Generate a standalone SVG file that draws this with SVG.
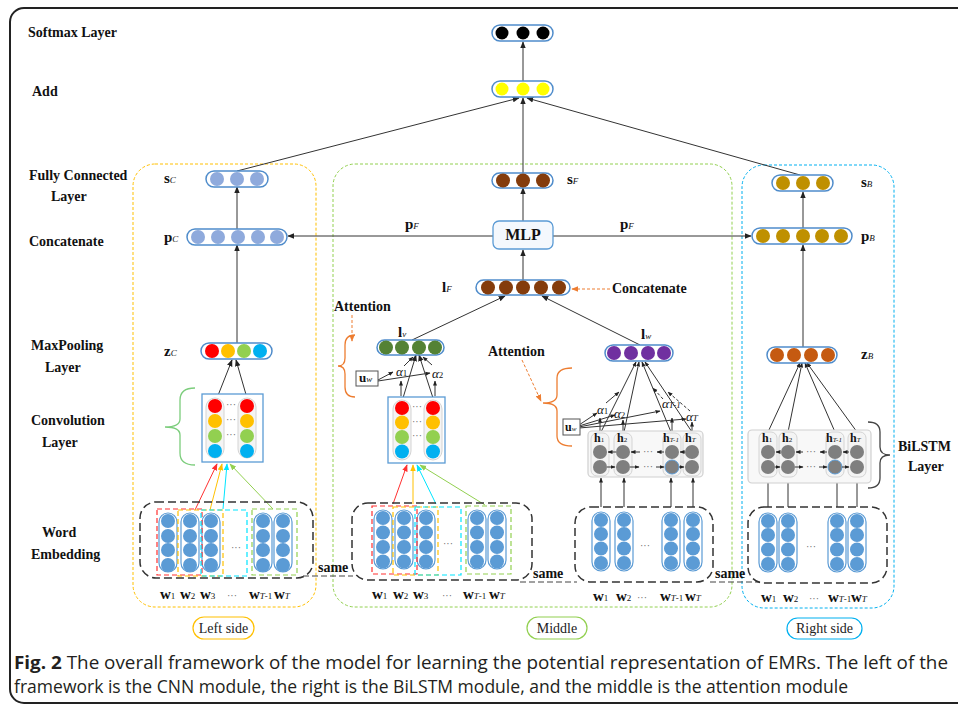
<svg xmlns="http://www.w3.org/2000/svg" width="958" height="710" viewBox="0 0 958 710">
<defs>
<style>
.lbl{font-family:"Liberation Serif","Times New Roman",serif;font-weight:bold;font-size:14px;fill:#111}
.nl{font-family:"Liberation Serif","Times New Roman",serif;font-weight:bold;font-size:15px;fill:#111}
.sub{font-family:"Liberation Serif","Times New Roman",serif;font-style:italic;font-weight:normal;font-size:9px}
.subn{font-family:"Liberation Serif","Times New Roman",serif;font-weight:normal;font-size:9px}
.hl{font-family:"Liberation Serif","Times New Roman",serif;font-weight:bold;font-size:13px;fill:#111}
.wl{font-family:"Liberation Serif","Times New Roman",serif;font-weight:bold;font-size:15px;fill:#111}
.al{font-family:"Liberation Serif","Times New Roman",serif;font-style:italic;font-size:13px;fill:#111}
.dots{font-family:"Liberation Serif",serif;font-size:10px;fill:#666;font-weight:normal}
.vec{fill:#fff;stroke:#4f8ccb;stroke-width:1.5}
.pill{fill:#fff;stroke:#5b9bd5;stroke-width:1.2}
.gpill{fill:#f4f4f4;stroke:#d4d4d4;stroke-width:1}
.emb{fill:#5b9bd5}
.hc{fill:#7f7f7f}
.conv{fill:#fff;stroke:#5b9bd5;stroke-width:1.3}
.bil{fill:#f8f8f8;stroke:#d0d0d0;stroke-width:1.2}
.ebox{fill:none;stroke:#333;stroke-width:1.5;stroke-dasharray:8 4}
.ln{stroke:#333;stroke-width:1;fill:none}
.pl{font-family:"Liberation Serif","Times New Roman",serif;font-size:14px;fill:#222}
.cap{font-family:"Open Sans","Noto Sans",sans-serif;font-size:18px;fill:#231f20}
</style>
<marker id="ah" viewBox="0 0 10 10" refX="9" refY="5" markerWidth="7" markerHeight="7" orient="auto" markerUnits="userSpaceOnUse"><path d="M0,1 L10,5 L0,9 z" fill="#222"/></marker>
<marker id="as" viewBox="0 0 10 10" refX="9" refY="5" markerWidth="5" markerHeight="5" orient="auto" markerUnits="userSpaceOnUse"><path d="M0,1 L10,5 L0,9 z" fill="#222"/></marker>
<marker id="ao" viewBox="0 0 10 10" refX="9" refY="5" markerWidth="7" markerHeight="7" orient="auto" markerUnits="userSpaceOnUse"><path d="M0,1 L10,5 L0,9 z" fill="#ed7d31"/></marker>
<marker id="ar" viewBox="0 0 10 10" refX="9" refY="5" markerWidth="7" markerHeight="7" orient="auto" markerUnits="userSpaceOnUse"><path d="M0,1 L10,5 L0,9 z" fill="#ff3030"/></marker>
<marker id="ay" viewBox="0 0 10 10" refX="9" refY="5" markerWidth="7" markerHeight="7" orient="auto" markerUnits="userSpaceOnUse"><path d="M0,1 L10,5 L0,9 z" fill="#ffc000"/></marker>
<marker id="ac" viewBox="0 0 10 10" refX="9" refY="5" markerWidth="7" markerHeight="7" orient="auto" markerUnits="userSpaceOnUse"><path d="M0,1 L10,5 L0,9 z" fill="#00e5ff"/></marker>
<marker id="ag" viewBox="0 0 10 10" refX="9" refY="5" markerWidth="7" markerHeight="7" orient="auto" markerUnits="userSpaceOnUse"><path d="M0,1 L10,5 L0,9 z" fill="#92d050"/></marker>
</defs>
<rect width="958" height="710" fill="#fff"/>
<rect x="10" y="8" width="970" height="695" rx="14" fill="none" stroke="#222" stroke-width="2"/>

<g id="panels">
<rect x="133" y="164" width="183" height="443" rx="22" fill="none" stroke="#ffc000" stroke-width="1" stroke-dasharray="3 2"/>
<rect x="333" y="164" width="399" height="443" rx="22" fill="none" stroke="#92d050" stroke-width="1" stroke-dasharray="3 2"/>
<rect x="742" y="165" width="152" height="443" rx="22" fill="none" stroke="#00b0f0" stroke-width="1" stroke-dasharray="3 2"/>
</g>

<g id="layer-labels" class="lbl">
<text x="28" y="37">Softmax Layer</text>
<text x="32" y="96">Add</text>
<text x="29" y="180">Fully Connected</text>
<text x="51" y="201">Layer</text>
<text x="29" y="246">Concatenate</text>
<text x="31" y="350">MaxPooling</text>
<text x="45" y="372">Layer</text>
<text x="31" y="425">Convolution</text>
<text x="42" y="447">Layer</text>
<text x="42" y="537">Word</text>
<text x="31" y="559">Embedding</text>
</g>

<g id="connectors">
<line class="ln" x1="523" y1="81" x2="523" y2="42" marker-end="url(#ah)"/>
<line class="ln" x1="237" y1="171" x2="519" y2="98" marker-end="url(#ah)"/>
<line class="ln" x1="523" y1="173" x2="523" y2="98" marker-end="url(#ah)"/>
<line class="ln" x1="800" y1="175" x2="527" y2="98" marker-end="url(#ah)"/>
<line class="ln" x1="237" y1="229" x2="237" y2="187" marker-end="url(#ah)"/>
<line class="ln" x1="237" y1="343" x2="237" y2="245" marker-end="url(#ah)"/>
<line class="ln" x1="217" y1="398" x2="232" y2="360" marker-end="url(#ah)"/>
<line class="ln" x1="247" y1="398" x2="236" y2="360" marker-end="url(#ah)"/>
<line stroke="#ff3030" stroke-width="1" x1="195" y1="510" x2="217" y2="464" marker-end="url(#ar)"/>
<line stroke="#ffc000" stroke-width="1" x1="210" y1="510" x2="222" y2="464" marker-end="url(#ay)"/>
<line stroke="#00e5ff" stroke-width="1" x1="223" y1="509" x2="227" y2="464" marker-end="url(#ac)"/>
<line stroke="#92d050" stroke-width="1" x1="273" y1="509" x2="230" y2="464" marker-end="url(#ag)"/>
<line class="ln" x1="523" y1="221" x2="523" y2="188" marker-end="url(#ah)"/>
<line class="ln" x1="523" y1="280" x2="523" y2="250" marker-end="url(#ah)"/>
<line class="ln" x1="493" y1="236" x2="288" y2="236" marker-end="url(#ah)"/>
<line class="ln" x1="553" y1="236" x2="751" y2="236" marker-end="url(#ah)"/>
<line class="ln" x1="412" y1="340" x2="505" y2="296" marker-end="url(#ah)"/>
<line class="ln" x1="640" y1="345" x2="542" y2="296" marker-end="url(#ah)"/>
<line class="ln" x1="403" y1="398" x2="416" y2="355" marker-end="url(#ah)"/>
<line class="ln" x1="433" y1="398" x2="419" y2="355" marker-end="url(#ah)"/>
<line class="ln" x1="378" y1="380" x2="393" y2="372" marker-end="url(#as)"/>
<line class="ln" x1="378" y1="381" x2="430" y2="373" marker-end="url(#as)"/>
<line class="ln" x1="401" y1="396" x2="401" y2="381" marker-end="url(#as)"/>
<line class="ln" x1="435" y1="396" x2="435" y2="381" marker-end="url(#as)"/>
<line class="ln" x1="404" y1="366" x2="413" y2="357" marker-end="url(#as)"/>
<line class="ln" x1="432" y1="365" x2="423" y2="357" marker-end="url(#as)"/>
<line stroke="#ff3030" stroke-width="1" x1="393" y1="504" x2="407" y2="465" marker-end="url(#ar)"/>
<line stroke="#ffc000" stroke-width="1" x1="413" y1="504" x2="413" y2="465" marker-end="url(#ay)"/>
<line stroke="#00e5ff" stroke-width="1" x1="436" y1="504" x2="417" y2="465" marker-end="url(#ac)"/>
<line stroke="#92d050" stroke-width="1" x1="485" y1="505" x2="420" y2="465" marker-end="url(#ag)"/>
<line class="ln" x1="601" y1="432" x2="636" y2="362" marker-end="url(#as)"/>
<line class="ln" x1="624" y1="432" x2="639" y2="362" marker-end="url(#as)"/>
<line class="ln" x1="671" y1="432" x2="642" y2="362" marker-end="url(#as)"/>
<line class="ln" x1="692" y1="432" x2="645" y2="362" marker-end="url(#as)"/>
<line class="ln" x1="579" y1="425" x2="597" y2="413" marker-end="url(#as)"/>
<line class="ln" x1="579" y1="426" x2="615" y2="415" marker-end="url(#as)"/>
<line class="ln" x1="579" y1="427" x2="660" y2="411" marker-end="url(#as)"/>
<line class="ln" x1="579" y1="428" x2="686" y2="419" marker-end="url(#as)"/>
<line class="ln" x1="600" y1="432" x2="600" y2="418" marker-end="url(#as)"/>
<line class="ln" x1="623" y1="432" x2="623" y2="420" marker-end="url(#as)"/>
<line class="ln" x1="672" y1="432" x2="672" y2="418" marker-end="url(#as)"/>
<line class="ln" x1="692" y1="432" x2="692" y2="422" marker-end="url(#as)"/>
<line class="ln" x1="606" y1="403" x2="619" y2="392" marker-end="url(#as)"/>
<line class="ln" x1="663" y1="399" x2="653" y2="388" stroke-dasharray="3 2" marker-end="url(#as)"/>
<line class="ln" x1="690" y1="411" x2="668" y2="392" stroke-dasharray="3 2" marker-end="url(#as)"/>
<line class="ln" x1="601" y1="507" x2="601" y2="478" marker-end="url(#as)"/>
<line class="ln" x1="624" y1="507" x2="624" y2="478" marker-end="url(#as)"/>
<line class="ln" x1="671" y1="507" x2="671" y2="478" marker-end="url(#as)"/>
<line class="ln" x1="693" y1="507" x2="693" y2="478" marker-end="url(#as)"/>
<line class="ln" x1="768" y1="507" x2="768" y2="478" marker-end="url(#as)"/>
<line class="ln" x1="788" y1="507" x2="788" y2="478" marker-end="url(#as)"/>
<line class="ln" x1="837" y1="507" x2="837" y2="478" marker-end="url(#as)"/>
<line class="ln" x1="857" y1="507" x2="857" y2="478" marker-end="url(#as)"/>
<line class="ln" x1="768" y1="432" x2="800" y2="363" marker-end="url(#as)"/>
<line class="ln" x1="788" y1="432" x2="802" y2="363" marker-end="url(#as)"/>
<line class="ln" x1="835" y1="432" x2="805" y2="363" marker-end="url(#as)"/>
<line class="ln" x1="857" y1="432" x2="807" y2="363" marker-end="url(#as)"/>
<line class="ln" x1="803" y1="347" x2="803" y2="245" marker-end="url(#ah)"/>
<line class="ln" x1="803" y1="228" x2="803" y2="192" marker-end="url(#ah)"/>
<line stroke="#ed7d31" stroke-width="1" stroke-dasharray="3 2" x1="352" y1="315" x2="352" y2="341" marker-end="url(#ao)"/>
<line stroke="#ed7d31" stroke-width="1" stroke-dasharray="3 2" x1="522" y1="360" x2="541" y2="401" marker-end="url(#ao)"/>
<line stroke="#ed7d31" stroke-width="1" stroke-dasharray="3 2" x1="610" y1="289" x2="572" y2="289" marker-end="url(#ao)"/>
<line stroke="#444" stroke-width="1.2" stroke-dasharray="6 3" x1="303" y1="576" x2="353" y2="576"/>
<line stroke="#444" stroke-width="1.2" stroke-dasharray="6 3" x1="520" y1="582" x2="577" y2="582"/>
<line stroke="#444" stroke-width="1.2" stroke-dasharray="6 3" x1="710" y1="582" x2="760" y2="582"/>
</g>

<g id="braces" fill="none" stroke-width="1.3">
<path d="M195,388 Q180,388 180,400 L180,419 Q180,427 165,427 Q180,427 180,435 L180,453 Q180,465 195,465" stroke="#7ccd7c"/>
<path d="M355,335 Q345,335 345,345 L345,358 Q345,366 338,366 Q345,366 345,374 L345,387 Q345,397 355,397" stroke="#ed7d31"/>
<path d="M572,368 Q557,368 557,378 L557,395 Q557,403 543,403 Q557,403 557,411 L557,436 Q557,446 572,446" stroke="#ed7d31"/>
<path d="M868,422 Q880,422 880,432 L880,447 Q880,455 890,455 Q880,455 880,463 L880,478 Q880,488 868,488" stroke="#444"/>
</g>

<g id="softmax">
<rect class="vec" x="492" y="25" width="61" height="16" rx="8"/>
<circle cx="502" cy="33" r="6.5" fill="#000"/><circle cx="523" cy="33" r="6.5" fill="#000"/><circle cx="543" cy="33" r="6.5" fill="#000"/>
</g>
<g id="add">
<rect class="vec" x="492" y="81" width="61" height="16" rx="8"/>
<circle cx="502" cy="89" r="6.5" fill="#ffff00"/><circle cx="523" cy="89" r="6.5" fill="#ffff00"/><circle cx="543" cy="89" r="6.5" fill="#ffff00"/>
</g>

<g id="sC">
<rect class="vec" x="206" y="171" width="62" height="16" rx="8"/>
<circle cx="217" cy="179" r="7" fill="#8faadc"/><circle cx="237" cy="179" r="7" fill="#8faadc"/><circle cx="257" cy="179" r="7" fill="#8faadc"/>
<text class="nl" x="164" y="183">s<tspan class="sub">C</tspan></text>
</g>
<g id="pC">
<rect class="vec" x="187" y="229" width="100" height="16" rx="8"/>
<circle cx="198" cy="237" r="7" fill="#8faadc"/><circle cx="218" cy="237" r="7" fill="#8faadc"/><circle cx="238" cy="237" r="7" fill="#8faadc"/><circle cx="258" cy="237" r="7" fill="#8faadc"/><circle cx="277" cy="237" r="7" fill="#8faadc"/>
<text class="nl" x="164" y="242">p<tspan class="sub">C</tspan></text>
</g>
<g id="zC">
<rect class="vec" x="201" y="343" width="71" height="16" rx="8"/>
<circle cx="212" cy="351" r="7" fill="#ff0000"/><circle cx="228" cy="351" r="7" fill="#ffc000"/><circle cx="244" cy="351" r="7" fill="#92d050"/><circle cx="260" cy="351" r="7" fill="#00b0f0"/>
<text class="nl" x="164" y="356">z<tspan class="sub">C</tspan></text>
</g>
<g id="convC">
<rect class="conv" x="202" y="394" width="61" height="68"/>
<rect class="gpill" x="206" y="398" width="18" height="60" rx="9"/>
<rect class="gpill" x="238" y="398" width="18" height="60" rx="9"/>
<circle cx="215" cy="406" r="7" fill="#ff0000"/><circle cx="215" cy="421" r="7" fill="#ffc000"/><circle cx="215" cy="436" r="7" fill="#92d050"/><circle cx="215" cy="451" r="7" fill="#00b0f0"/>
<circle cx="247" cy="406" r="7" fill="#ff0000"/><circle cx="247" cy="421" r="7" fill="#ffc000"/><circle cx="247" cy="436" r="7" fill="#92d050"/><circle cx="247" cy="451" r="7" fill="#00b0f0"/>
<text class="dots" x="231" y="408" text-anchor="middle">···</text><text class="dots" x="231" y="423" text-anchor="middle">···</text><text class="dots" x="231" y="438" text-anchor="middle">···</text>
</g>
<g id="embC">
<rect class="ebox" x="140" y="502" width="173" height="76" rx="16"/>
<rect class="pill" x="159" y="513" width="18" height="59" rx="9"/><rect class="pill" x="181" y="513" width="18" height="59" rx="9"/><rect class="pill" x="202" y="513" width="18" height="59" rx="9"/><rect class="pill" x="254" y="513" width="18" height="59" rx="9"/><rect class="pill" x="274" y="513" width="18" height="59" rx="9"/>
<g class="emb">
<circle cx="168" cy="521" r="7"/><circle cx="168" cy="536" r="7"/><circle cx="168" cy="550" r="7"/><circle cx="168" cy="565" r="7"/>
<circle cx="190" cy="521" r="7"/><circle cx="190" cy="536" r="7"/><circle cx="190" cy="550" r="7"/><circle cx="190" cy="565" r="7"/>
<circle cx="211" cy="521" r="7"/><circle cx="211" cy="536" r="7"/><circle cx="211" cy="550" r="7"/><circle cx="211" cy="565" r="7"/>
<circle cx="263" cy="521" r="7"/><circle cx="263" cy="536" r="7"/><circle cx="263" cy="550" r="7"/><circle cx="263" cy="565" r="7"/>
<circle cx="283" cy="521" r="7"/><circle cx="283" cy="536" r="7"/><circle cx="283" cy="550" r="7"/><circle cx="283" cy="565" r="7"/>
</g>
<text class="dots" x="236" y="551" text-anchor="middle">···</text>
<rect x="157" y="509" width="45" height="66" fill="none" stroke="#ff3030" stroke-width="1.2" stroke-dasharray="5 3"/>
<rect x="178" y="510" width="45" height="66" fill="none" stroke="#ffc000" stroke-width="1.2" stroke-dasharray="5 3"/>
<rect x="201" y="510" width="46" height="66" fill="none" stroke="#00e5ff" stroke-width="1.2" stroke-dasharray="5 3"/>
<rect x="252" y="509" width="45" height="66" fill="none" stroke="#92d050" stroke-width="1.2" stroke-dasharray="5 3"/>
<text class="wl" y="599"><tspan x="160">w<tspan class="subn">1</tspan></tspan><tspan x="180">w<tspan class="subn">2</tspan></tspan><tspan x="200">w<tspan class="subn">3</tspan></tspan><tspan x="227" class="dots">···</tspan><tspan x="249">w<tspan class="sub">T</tspan><tspan class="subn">-1</tspan></tspan><tspan x="274">w<tspan class="sub">T</tspan></tspan></text>
</g>

<g id="sF">
<rect class="vec" x="492" y="173" width="61" height="15" rx="7.5"/>
<circle cx="503" cy="180.5" r="7" fill="#843c0c"/><circle cx="523" cy="180.5" r="7" fill="#843c0c"/><circle cx="543" cy="180.5" r="7" fill="#843c0c"/>
<text class="nl" x="567" y="184">s<tspan class="sub">F</tspan></text>
</g>
<g id="MLP">
<rect x="493" y="221" width="60" height="28" rx="6" fill="#f4f8fd" stroke="#5b9bd5" stroke-width="1.3"/>
<text class="nl" x="523" y="240" text-anchor="middle" style="font-size:16px">MLP</text>
</g>
<text class="nl" x="405" y="229">p<tspan class="sub">F</tspan></text>
<text class="nl" x="620" y="229">p<tspan class="sub">F</tspan></text>
<g id="lF">
<rect class="vec" x="476" y="280" width="94" height="15" rx="7.5"/>
<circle cx="488" cy="287.5" r="7" fill="#843c0c"/><circle cx="506" cy="287.5" r="7" fill="#843c0c"/><circle cx="523" cy="287.5" r="7" fill="#843c0c"/><circle cx="541" cy="287.5" r="7" fill="#843c0c"/><circle cx="559" cy="287.5" r="7" fill="#843c0c"/>
<text class="nl" x="442" y="292">l<tspan class="sub">F</tspan></text>
</g>
<text class="lbl" x="612" y="293">Concatenate</text>
<text class="lbl" x="334" y="311">Attention</text>
<text class="lbl" x="488" y="356">Attention</text>

<g id="lv">
<rect class="vec" x="377" y="340" width="67" height="15" rx="7.5"/>
<circle cx="386" cy="347.5" r="7" fill="#548235"/><circle cx="402" cy="347.5" r="7" fill="#548235"/><circle cx="419" cy="347.5" r="7" fill="#548235"/><circle cx="435" cy="347.5" r="7" fill="#548235"/>
<text class="nl" x="398" y="337">l<tspan class="sub">v</tspan></text>
</g>
<g id="uw1">
<rect x="356" y="371" width="22" height="15" fill="#fff" stroke="#555" stroke-width="1"/>
<text class="hl" x="359" y="382">u<tspan class="sub">w</tspan></text>
</g>
<text class="al" x="396" y="376">α<tspan class="subn" style="font-style:normal">1</tspan></text>
<text class="al" x="432" y="378">α<tspan class="subn" style="font-style:normal">2</tspan></text>
<g id="convV">
<rect class="conv" x="388" y="397" width="57" height="66"/>
<rect class="gpill" x="393" y="400" width="18" height="60" rx="9"/>
<rect class="gpill" x="424" y="400" width="18" height="60" rx="9"/>
<circle cx="402" cy="408" r="7" fill="#ff0000"/><circle cx="402" cy="422.5" r="7" fill="#ffc000"/><circle cx="402" cy="437" r="7" fill="#92d050"/><circle cx="402" cy="451.5" r="7" fill="#00b0f0"/>
<circle cx="433" cy="408" r="7" fill="#ff0000"/><circle cx="433" cy="422.5" r="7" fill="#ffc000"/><circle cx="433" cy="437" r="7" fill="#92d050"/><circle cx="433" cy="451.5" r="7" fill="#00b0f0"/>
<text class="dots" x="417" y="410" text-anchor="middle">···</text><text class="dots" x="417" y="425" text-anchor="middle">···</text><text class="dots" x="417" y="439" text-anchor="middle">···</text>
</g>
<g id="embV">
<rect class="ebox" x="352" y="503" width="180" height="77" rx="16"/>
<rect class="pill" x="374" y="510" width="18" height="59" rx="9"/><rect class="pill" x="395" y="510" width="18" height="59" rx="9"/><rect class="pill" x="417" y="510" width="18" height="59" rx="9"/><rect class="pill" x="468" y="510" width="18" height="59" rx="9"/><rect class="pill" x="488" y="510" width="18" height="59" rx="9"/>
<g class="emb">
<circle cx="383" cy="518" r="7"/><circle cx="383" cy="532.5" r="7"/><circle cx="383" cy="547" r="7"/><circle cx="383" cy="561.5" r="7"/>
<circle cx="404" cy="518" r="7"/><circle cx="404" cy="532.5" r="7"/><circle cx="404" cy="547" r="7"/><circle cx="404" cy="561.5" r="7"/>
<circle cx="426" cy="518" r="7"/><circle cx="426" cy="532.5" r="7"/><circle cx="426" cy="547" r="7"/><circle cx="426" cy="561.5" r="7"/>
<circle cx="477" cy="518" r="7"/><circle cx="477" cy="532.5" r="7"/><circle cx="477" cy="547" r="7"/><circle cx="477" cy="561.5" r="7"/>
<circle cx="497" cy="518" r="7"/><circle cx="497" cy="532.5" r="7"/><circle cx="497" cy="547" r="7"/><circle cx="497" cy="561.5" r="7"/>
</g>
<text class="dots" x="448" y="547" text-anchor="middle">···</text>
<rect x="372" y="506" width="45" height="68" fill="none" stroke="#ff3030" stroke-width="1.2" stroke-dasharray="5 3"/>
<rect x="393" y="507" width="45" height="68" fill="none" stroke="#ffc000" stroke-width="1.2" stroke-dasharray="5 3"/>
<rect x="415" y="507" width="46" height="68" fill="none" stroke="#00e5ff" stroke-width="1.2" stroke-dasharray="5 3"/>
<rect x="466" y="506" width="45" height="68" fill="none" stroke="#92d050" stroke-width="1.2" stroke-dasharray="5 3"/>
<text class="wl" y="599"><tspan x="372">w<tspan class="subn">1</tspan></tspan><tspan x="393">w<tspan class="subn">2</tspan></tspan><tspan x="413">w<tspan class="subn">3</tspan></tspan><tspan x="442" class="dots">···</tspan><tspan x="463">w<tspan class="sub">T</tspan><tspan class="subn">-1</tspan></tspan><tspan x="489">w<tspan class="sub">T</tspan></tspan></text>
</g>

<g id="lw">
<rect class="vec" x="605" y="345" width="68" height="16" rx="8"/>
<circle cx="614" cy="353" r="7" fill="#7030a0"/><circle cx="631" cy="353" r="7" fill="#7030a0"/><circle cx="648" cy="353" r="7" fill="#7030a0"/><circle cx="664" cy="353" r="7" fill="#7030a0"/>
<text class="nl" x="641" y="339">l<tspan class="sub">w</tspan></text>
</g>
<g id="uw2">
<rect x="563" y="419" width="17" height="16" fill="#fff" stroke="#555" stroke-width="1"/>
<text class="hl" x="565" y="431" style="font-size:12px">u<tspan class="sub" style="font-size:7px">w</tspan></text>
</g>
<text class="al" x="597" y="414">α<tspan class="subn" style="font-style:normal">1</tspan></text>
<text class="al" x="614" y="418">α<tspan class="subn" style="font-style:normal">2</tspan></text>
<text class="al" x="662" y="408">α<tspan class="sub">T-1</tspan></text>
<text class="al" x="686" y="421">α<tspan class="sub">T</tspan></text>
<g id="bilstmV">
<rect class="bil" x="588" y="431" width="115" height="46" rx="4"/>
<rect class="gpill" x="591" y="433" width="18" height="43" rx="6" fill="#fff"/><rect class="gpill" x="614" y="433" width="18" height="43" rx="6" fill="#fff"/><rect class="gpill" x="663" y="433" width="18" height="43" rx="6" fill="#fff"/><rect class="gpill" x="683" y="433" width="18" height="43" rx="6" fill="#fff"/>
<circle class="hc" cx="600" cy="452" r="7"/><circle class="hc" cx="600" cy="467" r="7"/>
<circle class="hc" cx="623" cy="452" r="7"/><circle class="hc" cx="623" cy="467" r="7"/>
<circle class="hc" cx="672" cy="452" r="7"/><circle class="hc" cx="672" cy="467" r="7" stroke="#5b9bd5" stroke-width="1"/>
<circle class="hc" cx="692" cy="452" r="7"/><circle class="hc" cx="692" cy="467" r="7"/>
<text class="hl" y="442" style="font-size:12px"><tspan x="594">h<tspan class="subn" style="font-size:7px">1</tspan></tspan><tspan x="617">h<tspan class="subn" style="font-size:7px">2</tspan></tspan><tspan x="663">h<tspan class="sub" style="font-size:7px">T-1</tspan></tspan><tspan x="685">h<tspan class="sub" style="font-size:7px">T</tspan></tspan></text>
<text class="dots" x="648" y="455" text-anchor="middle">···</text><text class="dots" x="648" y="470" text-anchor="middle">···</text>
<g class="ln">
<line x1="616" y1="452" x2="608" y2="452" marker-end="url(#as)"/><line x1="640" y1="452" x2="631" y2="452" marker-end="url(#as)"/><line x1="664" y1="452" x2="657" y2="452" marker-end="url(#as)"/><line x1="685" y1="452" x2="680" y2="452" marker-end="url(#as)"/>
<line x1="607" y1="467" x2="615" y2="467" marker-end="url(#as)"/><line x1="630" y1="467" x2="639" y2="467" marker-end="url(#as)"/><line x1="656" y1="467" x2="664" y2="467" marker-end="url(#as)"/><line x1="679" y1="467" x2="684" y2="467" marker-end="url(#as)"/>
</g>
</g>
<g id="embW">
<rect class="ebox" x="575" y="507" width="138" height="75" rx="16"/>
<rect class="pill" x="592" y="512" width="18" height="59" rx="9"/><rect class="pill" x="615" y="512" width="18" height="59" rx="9"/><rect class="pill" x="662" y="512" width="18" height="59" rx="9"/><rect class="pill" x="684" y="512" width="18" height="59" rx="9"/>
<g class="emb">
<circle cx="601" cy="520" r="7"/><circle cx="601" cy="534" r="7"/><circle cx="601" cy="548.5" r="7"/><circle cx="601" cy="563" r="7"/>
<circle cx="624" cy="520" r="7"/><circle cx="624" cy="534" r="7"/><circle cx="624" cy="548.5" r="7"/><circle cx="624" cy="563" r="7"/>
<circle cx="671" cy="520" r="7"/><circle cx="671" cy="534" r="7"/><circle cx="671" cy="548.5" r="7"/><circle cx="671" cy="563" r="7"/>
<circle cx="693" cy="520" r="7"/><circle cx="693" cy="534" r="7"/><circle cx="693" cy="548.5" r="7"/><circle cx="693" cy="563" r="7"/>
</g>
<text class="dots" x="645" y="549" text-anchor="middle">···</text>
<text class="wl" y="601"><tspan x="593">w<tspan class="subn">1</tspan></tspan><tspan x="616">w<tspan class="subn">2</tspan></tspan><tspan x="637" class="dots">···</tspan><tspan x="660">w<tspan class="sub">T</tspan><tspan class="subn">-1</tspan></tspan><tspan x="685">w<tspan class="sub">T</tspan></tspan></text>
</g>

<g id="sB">
<rect class="vec" x="772" y="175" width="61" height="16" rx="8"/>
<circle cx="783" cy="183" r="7" fill="#bf9000"/><circle cx="803" cy="183" r="7" fill="#bf9000"/><circle cx="823" cy="183" r="7" fill="#bf9000"/>
<text class="nl" x="861" y="187">s<tspan class="sub">B</tspan></text>
</g>
<g id="pB">
<rect class="vec" x="752" y="228" width="100" height="16" rx="8"/>
<circle cx="763" cy="236" r="7" fill="#bf9000"/><circle cx="783" cy="236" r="7" fill="#bf9000"/><circle cx="803" cy="236" r="7" fill="#bf9000"/><circle cx="822" cy="236" r="7" fill="#bf9000"/><circle cx="841" cy="236" r="7" fill="#bf9000"/>
<text class="nl" x="861" y="241">p<tspan class="sub">B</tspan></text>
</g>
<g id="zB">
<rect class="vec" x="767" y="347" width="70" height="16" rx="8"/>
<circle cx="777" cy="355" r="7" fill="#c55a11"/><circle cx="794" cy="355" r="7" fill="#c55a11"/><circle cx="811" cy="355" r="7" fill="#c55a11"/><circle cx="828" cy="355" r="7" fill="#c55a11"/>
<text class="nl" x="861" y="359">z<tspan class="sub">B</tspan></text>
</g>
<g id="bilstmB">
<rect class="bil" x="748" y="430" width="123" height="53" rx="4"/>
<rect class="gpill" x="759" y="432" width="18" height="45" rx="6" fill="#fff"/><rect class="gpill" x="779" y="432" width="18" height="45" rx="6" fill="#fff"/><rect class="gpill" x="826" y="432" width="18" height="45" rx="6" fill="#fff"/><rect class="gpill" x="848" y="432" width="18" height="45" rx="6" fill="#fff"/>
<circle class="hc" cx="768" cy="452" r="7"/><circle class="hc" cx="768" cy="467" r="7"/>
<circle class="hc" cx="788" cy="452" r="7"/><circle class="hc" cx="788" cy="467" r="7"/>
<circle class="hc" cx="835" cy="452" r="7"/><circle class="hc" cx="835" cy="467" r="7" stroke="#5b9bd5" stroke-width="1"/>
<circle class="hc" cx="857" cy="452" r="7"/><circle class="hc" cx="857" cy="467" r="7"/>
<text class="hl" y="442" style="font-size:12px"><tspan x="762">h<tspan class="subn" style="font-size:7px">1</tspan></tspan><tspan x="782">h<tspan class="subn" style="font-size:7px">2</tspan></tspan><tspan x="826">h<tspan class="sub" style="font-size:7px">T-1</tspan></tspan><tspan x="850">h<tspan class="sub" style="font-size:7px">T</tspan></tspan></text>
<text class="dots" x="811" y="455" text-anchor="middle">···</text><text class="dots" x="811" y="470" text-anchor="middle">···</text>
<g class="ln">
<line x1="780" y1="452" x2="776" y2="452" marker-end="url(#as)"/><line x1="803" y1="452" x2="796" y2="452" marker-end="url(#as)"/><line x1="827" y1="452" x2="820" y2="452" marker-end="url(#as)"/><line x1="849" y1="452" x2="843" y2="452" marker-end="url(#as)"/>
<line x1="775" y1="467" x2="780" y2="467" marker-end="url(#as)"/><line x1="795" y1="467" x2="803" y2="467" marker-end="url(#as)"/><line x1="819" y1="467" x2="827" y2="467" marker-end="url(#as)"/><line x1="842" y1="467" x2="849" y2="467" marker-end="url(#as)"/>
</g>
</g>
<text class="lbl" x="898" y="451">BiLSTM</text>
<text class="lbl" x="908" y="471">Layer</text>
<g id="embB">
<rect class="ebox" x="748" y="507" width="139" height="76" rx="16"/>
<rect class="pill" x="759" y="513" width="18" height="59" rx="9"/><rect class="pill" x="779" y="513" width="18" height="59" rx="9"/><rect class="pill" x="828" y="513" width="18" height="59" rx="9"/><rect class="pill" x="848" y="513" width="18" height="59" rx="9"/>
<g class="emb">
<circle cx="768" cy="521" r="7"/><circle cx="768" cy="535" r="7"/><circle cx="768" cy="549.5" r="7"/><circle cx="768" cy="564" r="7"/>
<circle cx="788" cy="521" r="7"/><circle cx="788" cy="535" r="7"/><circle cx="788" cy="549.5" r="7"/><circle cx="788" cy="564" r="7"/>
<circle cx="837" cy="521" r="7"/><circle cx="837" cy="535" r="7"/><circle cx="837" cy="549.5" r="7"/><circle cx="837" cy="564" r="7"/>
<circle cx="857" cy="521" r="7"/><circle cx="857" cy="535" r="7"/><circle cx="857" cy="549.5" r="7"/><circle cx="857" cy="564" r="7"/>
</g>
<text class="dots" x="811" y="550" text-anchor="middle">···</text>
<text class="wl" y="602"><tspan x="761">w<tspan class="subn">1</tspan></tspan><tspan x="783">w<tspan class="subn">2</tspan></tspan><tspan x="809" class="dots">···</tspan><tspan x="828">w<tspan class="sub">T</tspan><tspan class="subn">-1</tspan></tspan><tspan x="851">w<tspan class="sub">T</tspan></tspan></text>
</g>

<g id="same-labels" class="lbl">
<text x="318" y="572">same</text>
<text x="533" y="578">same</text>
<text x="715" y="578">same</text>
</g>

<g id="side-labels">
<rect x="193" y="617" width="61" height="22" rx="11" fill="#fff" stroke="#ffc000" stroke-width="1.2"/>
<text class="pl" x="223.5" y="633" text-anchor="middle">Left side</text>
<rect x="527" y="617" width="60" height="22" rx="11" fill="#fff" stroke="#92d050" stroke-width="1.2"/>
<text class="pl" x="557" y="633" text-anchor="middle">Middle</text>
<rect x="787" y="618" width="75" height="21" rx="10.5" fill="#fff" stroke="#00b0f0" stroke-width="1.2"/>
<text class="pl" x="824.5" y="633" text-anchor="middle">Right side</text>
</g>

<g id="caption">
<text class="cap" x="14" y="669" textLength="934" lengthAdjust="spacingAndGlyphs"><tspan font-weight="bold">Fig. 2</tspan> The overall framework of the model for learning the potential representation of EMRs. The left of the</text>
<text class="cap" x="14" y="693" textLength="834" lengthAdjust="spacingAndGlyphs">framework is the CNN module, the right is the BiLSTM module, and the middle is the attention module</text>
</g>
</svg>
